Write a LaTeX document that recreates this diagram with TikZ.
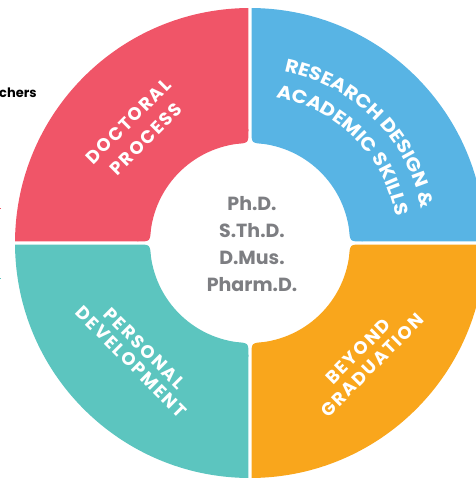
\documentclass[tikz,border=0pt]{standalone}
\usepackage{fontspec}
\setmainfont{Poppins}
\newfontfamily\segfont[LetterSpace=10]{Poppins}
\newfontfamily\arcfont[FakeStretch=1.1]{Poppins}
\usetikzlibrary{decorations.text}
\definecolor{docred}{HTML}{F05568}
\definecolor{resblue}{HTML}{58B4E4}
\definecolor{devteal}{HTML}{5CC5BF}
\definecolor{gradorange}{HTML}{F9A61C}
\definecolor{degreegray}{HTML}{7D7E82}
\newcommand{\segsize}{\segfont\bfseries\fontsize{18}{18}\selectfont}
\newcommand{\arcsize}{\arcfont\bfseries\fontsize{18.5}{18.5}\selectfont}

\begin{document}
\begin{tikzpicture}[x=1pt,y=1pt,
    seglabel/.style={text=white,font=\segsize,inner sep=0pt},
    degree/.style={text=degreegray,font=\bfseries\fontsize{19}{27}\selectfont,align=center,inner sep=0pt}]
    \useasboundingbox (-250,-236) rectangle (225,243);
    \foreach \a/\c in {0/resblue,90/docred,180/devteal,270/gradorange}
        \fill[\c,rotate=\a] (89.63:235) -- (1.5,112) .. controls (1.5,100) .. (82:100)
            arc[start angle=82,end angle=8,radius=100] .. controls (100,1.5) .. (112,1.5)
            -- (0.37:235) arc[start angle=0.37,end angle=89.63,radius=235] -- cycle;
    \node[seglabel,rotate=45] (doctoral) at (135:172) {DOCTORAL};
    \node[seglabel,rotate=45] (process) at (135:147) {PROCESS};
    \path[decorate,decoration={text along path,text align=center,text color=white,
        text={|\arcsize|RESEARCH DESIGN {\&}}}] (100:175) arc[start angle=100,end angle=-10,radius=175];
    \path[decorate,decoration={text along path,text align=center,text color=white,
        text={|\arcsize|ACADEMIC SKILLS}}] (100:148) arc[start angle=100,end angle=-10,radius=148];
    \node[seglabel,rotate=45] (beyond) at (-45:153) {BEYOND};
    \node[seglabel,rotate=45] (graduation) at (-45:173) {GRADUATION};
    \node[seglabel,rotate=-45] (personal) at (-135:149) {PERSONAL};
    \node[seglabel,rotate=-45] (development) at (-135:168) {DEVELOPMENT};
    \node[degree] (degrees) at (2,-1.5) {Ph.D.\\S.Th.D.\\D.Mus.\\Pharm.D.};
    \node[anchor=base west,inner sep=0pt,font=\bfseries\fontsize{13}{13}\selectfont] (researchers) at (-251,145) {chers};
    \draw[docred,line width=1pt] (-256,34) -- (-248.5,34);
    \draw[devteal,line width=1pt] (-256,-35) -- (-248.5,-35);
\end{tikzpicture}
\end{document}
